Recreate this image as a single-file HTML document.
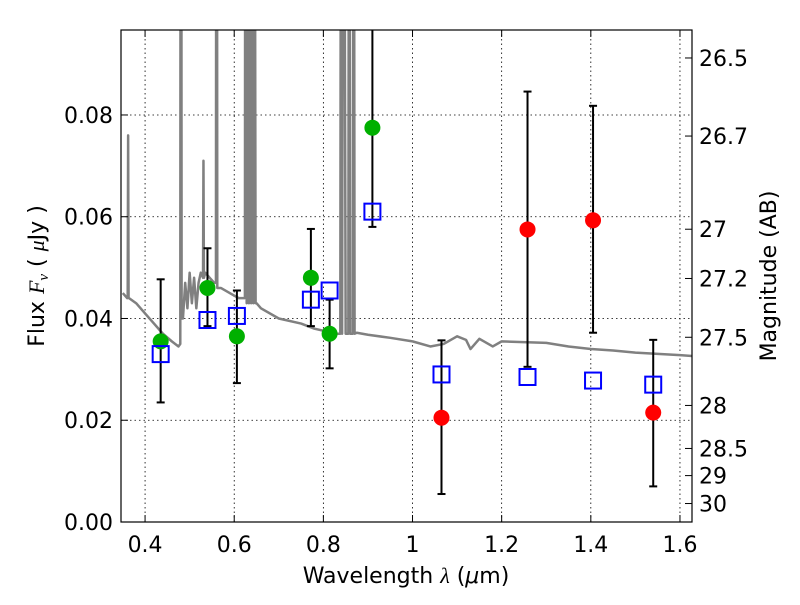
<!DOCTYPE html>
<html><head><meta charset="utf-8"><style>
body{margin:0;background:#fff;}
svg text{font-family:"DejaVu Sans","Liberation Sans",sans-serif;fill:#000;}
</style></head><body>
<svg id="chart" width="800" height="600" xmlns="http://www.w3.org/2000/svg">
<defs><clipPath id="clip"><rect x="121" y="30" width="571" height="492"/></clipPath></defs>
<g id="grid"></g>
<g id="spec" clip-path="url(#clip)"></g>
<g id="marks" clip-path="url(#clip)"></g>
<rect x="121" y="30" width="571" height="492" fill="none" stroke="#000" stroke-width="1.2"/>
<g id="axes"></g>
<text x="406" y="583" font-size="22" text-anchor="middle">Wavelength  <tspan font-family="Liberation Serif" font-style="italic">λ</tspan> (<tspan font-style="italic">μ</tspan>m)</text>
<text transform="translate(44,276) rotate(-90)" font-size="22" text-anchor="middle">Flux  <tspan font-family="Liberation Serif" font-style="italic">F<tspan font-size="15" dy="4">ν</tspan></tspan><tspan dy="-4">  (  </tspan><tspan font-family="Liberation Serif" font-style="italic">μ</tspan>Jy )</text>
<text transform="translate(776,276) rotate(-90)" font-size="22" text-anchor="middle">Magnitude (AB)</text>
</svg>
<script>
const xTicks=[0.4,0.6,0.8,1,1.2,1.4,1.6];
const xTickLabels=["0.4","0.6","0.8","1","1.2","1.4","1.6"];
const yTicks=[0,0.02,0.04,0.06,0.08];
const yTickLabels=["0.00","0.02","0.04","0.06","0.08"];
const magTicks=[26.5,26.7,27,27.2,27.5,28,28.5,29,30];
const magTickLabels=["26.5","26.7","27","27.2","27.5","28","28.5","29","30"];
const specWave=[0.35,0.36,0.361,0.362,0.363,0.364,0.38,0.40,0.42,0.44,0.46,0.475,0.479,0.48,0.481,0.482,0.485,0.49,0.495,0.50,0.505,0.51,0.515,0.52,0.525,0.53,0.531,0.532,0.535,0.545,0.555,0.559,0.56,0.561,0.562,0.57,0.59,0.61,0.62,0.624,0.625,0.628,0.63,0.633,0.635,0.638,0.64,0.643,0.645,0.648,0.65,0.66,0.7,0.75,0.78,0.83,0.838,0.84,0.842,0.845,0.85,0.856,0.858,0.86,0.866,0.868,0.87,0.875,0.9,0.95,1.0,1.04,1.07,1.1,1.12,1.13,1.15,1.18,1.2,1.3,1.35,1.4,1.45,1.5,1.6,1.63];
const specFlux=[0.045,0.044,0.044,0.076,0.044,0.044,0.043,0.041,0.039,0.037,0.0355,0.0345,0.035,0.2,0.2,0.04,0.040,0.047,0.042,0.049,0.043,0.048,0.042,0.047,0.049,0.048,0.071,0.048,0.049,0.048,0.047,0.047,0.2,0.2,0.046,0.046,0.045,0.044,0.044,0.044,0.2,0.043,0.2,0.043,0.2,0.043,0.2,0.043,0.2,0.043,0.043,0.042,0.040,0.039,0.038,0.037,0.037,0.2,0.037,0.2,0.037,0.037,0.2,0.037,0.037,0.2,0.037,0.0372,0.0368,0.0362,0.0355,0.0345,0.035,0.0365,0.0358,0.034,0.036,0.0345,0.0355,0.0352,0.0345,0.034,0.0337,0.0333,0.0328,0.0326];
const greenWave=[0.435,0.54,0.606,0.772,0.814,0.91];
const greenFlux=[0.0355,0.046,0.0365,0.048,0.037,0.0775];
const redWave=[1.065,1.258,1.405,1.54];
const redFlux=[0.0205,0.0575,0.0593,0.0215];
const modelWave=[0.435,0.54,0.606,0.772,0.814,0.91,1.065,1.258,1.405,1.54];
const modelFlux=[0.033,0.0397,0.0405,0.0437,0.0455,0.061,0.029,0.0285,0.0278,0.027];
const errWave=[0.435,0.54,0.606,0.772,0.814,0.91,1.065,1.258,1.405,1.54];
const errLow=[0.0235,0.0385,0.0273,0.0385,0.0302,0.058,0.0055,0.0305,0.0372,0.007];
const errHigh=[0.0477,0.0538,0.0455,0.0576,0.0437,0.12,0.0357,0.0846,0.0818,0.0358];

const X0=121,X1=692,Y0=522,Y1=30,xmin=0.346,xmax=1.627,ymin=0,ymax=0.0967;
const sx=v=>X0+(v-xmin)/(xmax-xmin)*(X1-X0);
const sy=v=>Y0-(v-ymin)/(ymax-ymin)*(Y0-Y1);
const magToFlux=m=>Math.pow(10,(23.9-m)/2.5);
const NS="http://www.w3.org/2000/svg";
function mk(t,a,p){const e=document.createElementNS(NS,t);for(const k in a)e.setAttribute(k,a[k]);p.appendChild(e);return e;}
const grid=document.getElementById('grid'),axes=document.getElementById('axes'),spec=document.getElementById('spec'),marks=document.getElementById('marks');

xTicks.forEach((v,i)=>{const x=sx(v);
 let g=mk('line',{x1:x,x2:x,y1:Y1,y2:Y0,stroke:'#000','stroke-width':0.8,'stroke-dasharray':'1.5,3'},grid);
 
 mk('line',{x1:x,x2:x,y1:Y0,y2:Y0-7,stroke:'#000'},axes);mk('line',{x1:x,x2:x,y1:Y1,y2:Y1+7,stroke:'#000'},axes);
 const t=mk('text',{x:x,y:Y0+30,'font-size':22,'text-anchor':'middle'},axes);t.textContent=xTickLabels[i];
 });
yTicks.forEach((v,i)=>{const y=sy(v);
 let g=mk('line',{x1:X0,x2:X1,y1:y,y2:y,stroke:'#000','stroke-width':0.8,'stroke-dasharray':'1.5,3'},grid);
 
 mk('line',{x1:X0,x2:X0+7,y1:y,y2:y,stroke:'#000'},axes);
 const t=mk('text',{x:X0-8,y:y+8,'font-size':22,'text-anchor':'end'},axes);t.textContent=yTickLabels[i];
 });
magTicks.forEach((m,i)=>{const y=sy(magToFlux(m));
 mk('line',{x1:X1-7,x2:X1,y1:y,y2:y,stroke:'#000'},axes);
 const t=mk('text',{x:X1+7,y:y+8,'font-size':22},axes);t.textContent=magTickLabels[i];
 });

const sp=mk('polyline',{points:specWave.map((w,i)=>sx(w)+','+sy(specFlux[i])).join(' '),fill:'none',stroke:'#808080','stroke-width':2.5,'stroke-linejoin':'round'},spec);


errWave.forEach((w,i)=>{const x=sx(w),a=sy(errLow[i]),b=sy(errHigh[i]);
 const g=mk('g',{stroke:'#000','stroke-width':2},marks);
 
 mk('line',{x1:x,x2:x,y1:a,y2:b},g);mk('line',{x1:x-4,x2:x+4,y1:a,y2:a},g);mk('line',{x1:x-4,x2:x+4,y1:b,y2:b},g);});
greenWave.forEach((w,i)=>{const c=mk('circle',{cx:sx(w),cy:sy(greenFlux[i]),r:8,fill:'#00b000'},marks);
 });
redWave.forEach((w,i)=>{const c=mk('circle',{cx:sx(w),cy:sy(redFlux[i]),r:8,fill:'#f00'},marks);
 });
modelWave.forEach((w,i)=>{const r=mk('rect',{x:sx(w)-8,y:sy(modelFlux[i])-8,width:16,height:16,fill:'none',stroke:'#00f','stroke-width':2},marks);
 });
</script>
</body></html>
